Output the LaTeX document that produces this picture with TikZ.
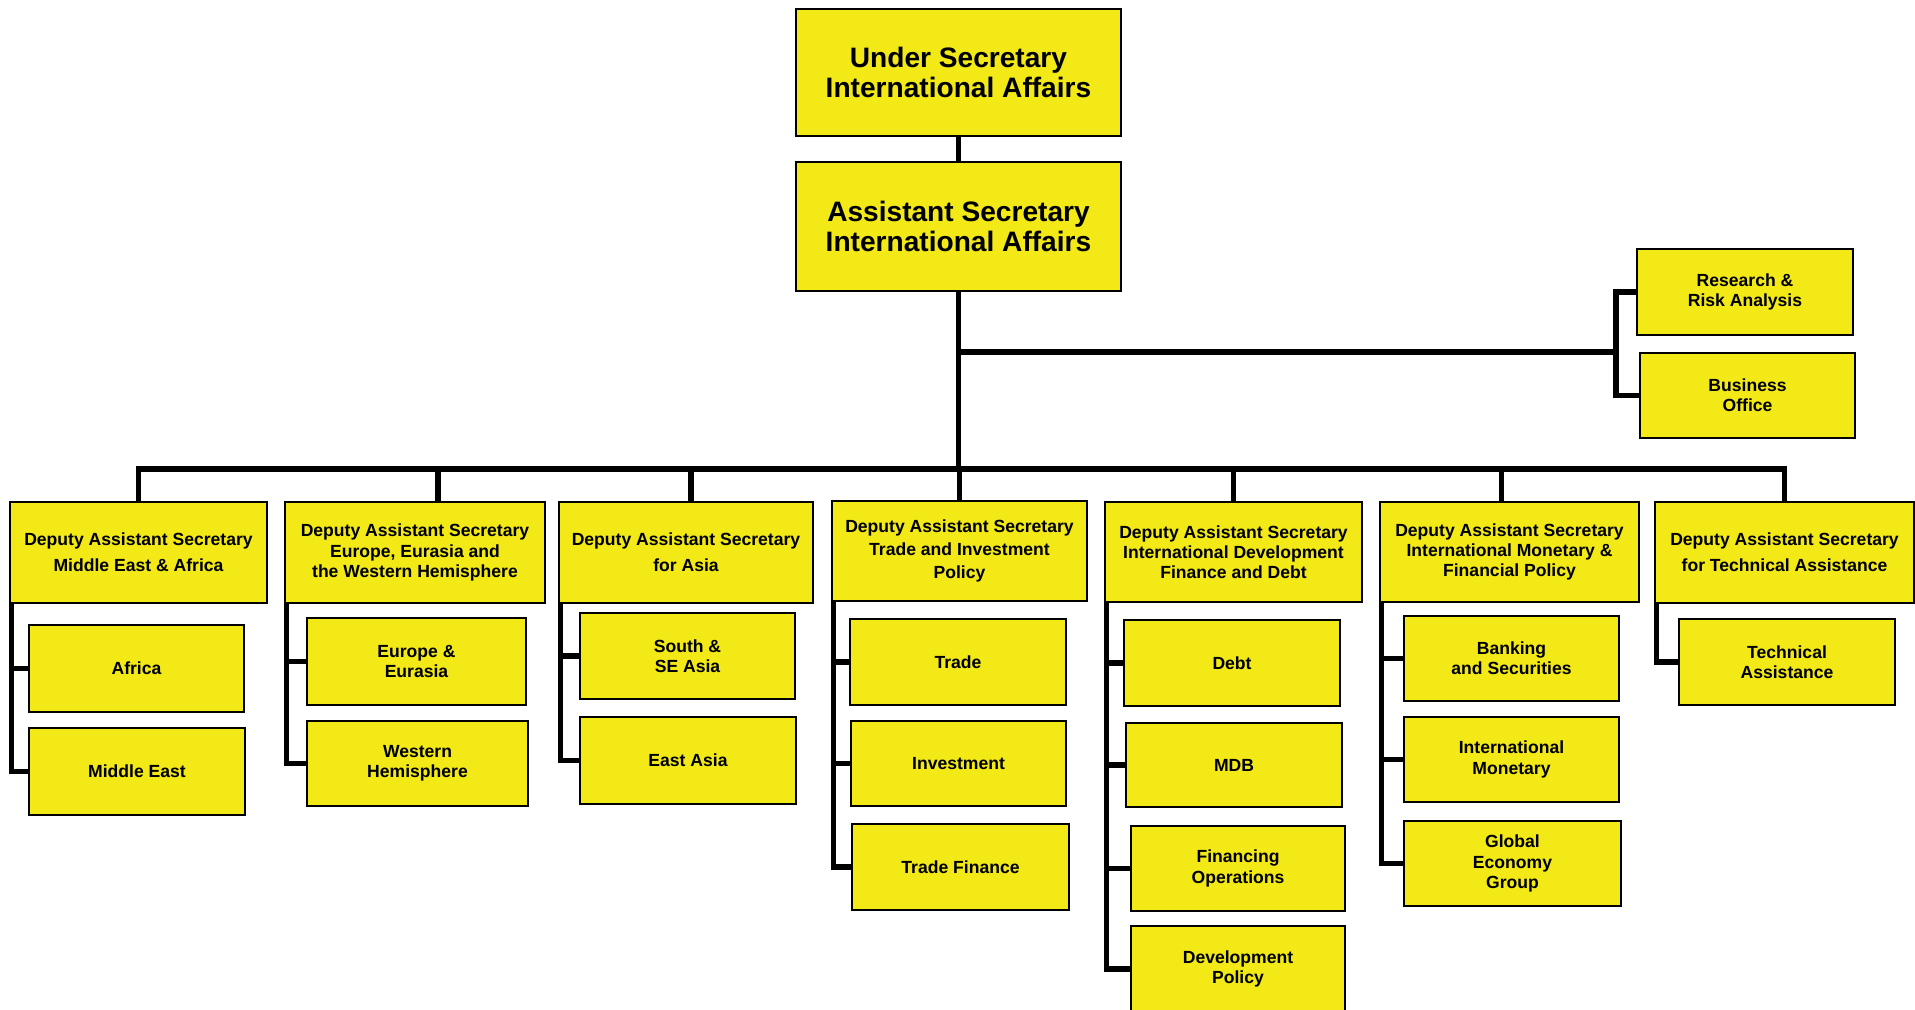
\documentclass[tikz,border=0pt]{standalone}
\usepackage{fontspec}
\setmainfont{Liberation Sans}
\definecolor{chartyellow}{RGB}{242,233,22}

\begin{document}
\begin{tikzpicture}
    [
        x=0.02cm, y=-0.02cm,
        wh/.style 2 args={minimum width=#1*0.02cm,minimum height=#2*0.02cm},
        unit/.style={rectangle,fill=chartyellow,draw=black,line width=1.6pt,inner sep=0pt,align=center,
                     font=\bfseries\fontsize{10}{11.5}\selectfont},
        head/.style={unit,font=\bfseries\fontsize{16}{17.5}\selectfont},
        wire/.style={draw=black,line width=3pt},
    ]
    \useasboundingbox (0,0) rectangle (1915,1009);
    \node[head,wh={325}{127}] (us) at (958.5,72.5) {Under Secretary\\International Affairs};
    \node[head,wh={325}{129}] (as) at (958.5,226.5) {Assistant Secretary\\International Affairs};
    \node[unit,wh={216}{86}] (research) at (1745,292) {Research \&\\Risk Analysis};
    \node[unit,wh={215}{85}] (business) at (1747.5,395.5) {Business\\Office};

    \node[unit,wh={257}{101}] (dmea) at (138.5,552.5) {Deputy Assistant Secretary\\[3.5pt]Middle East \& Africa};
    \node[unit,wh={260}{101}] (deur) at (415,552.5) {Deputy Assistant Secretary\\Europe, Eurasia and\\the Western Hemisphere};
    \node[unit,wh={254}{101}] (dasia) at (686,552.5) {Deputy Assistant Secretary\\[3.5pt]for Asia};
    \node[unit,wh={255}{100}] (dtrade) at (959.5,551) {Deputy Assistant Secretary\\[1.5pt]Trade and Investment\\[1.5pt]Policy};
    \node[unit,wh={257}{100}] (ddev) at (1233.5,552) {Deputy Assistant Secretary\\International Development\\Finance and Debt};
    \node[unit,wh={259}{100}] (dmon) at (1509.5,552) {Deputy Assistant Secretary\\International Monetary \&\\Financial Policy};
    \node[unit,wh={259}{101}] (dtech) at (1784.5,552.5) {Deputy Assistant Secretary\\[3.5pt]for Technical Assistance};

    \node[unit,wh={215}{87}] (africa) at (136.5,668.5) {Africa};
    \node[unit,wh={216}{87}] (mideast) at (137,771.5) {Middle East};
    \node[unit,wh={219}{87}] (europe) at (416.5,661.5) {Europe \&\\Eurasia};
    \node[unit,wh={221}{85}] (western) at (417.5,763.5) {Western\\Hemisphere};
    \node[unit,wh={215}{86}] (southasia) at (687.5,656) {South \&\\SE Asia};
    \node[unit,wh={216}{87}] (eastasia) at (688,760.5) {East Asia};
    \node[unit,wh={216}{86}] (trade) at (958,662) {Trade};
    \node[unit,wh={215}{85}] (invest) at (958.5,763.5) {Investment};
    \node[unit,wh={217}{86}] (tradefin) at (960.5,867) {Trade Finance};
    \node[unit,wh={216}{86}] (debt) at (1232,663) {Debt};
    \node[unit,wh={216}{84}] (mdb) at (1234,765) {MDB};
    \node[unit,wh={214}{85}] (finops) at (1238,868.5) {Financing\\Operations};
    \node[unit,wh={214}{86}] (devpol) at (1238,969) {Development\\Policy};
    \node[unit,wh={215}{85}] (banking) at (1511.5,658.5) {Banking\\and Securities};
    \node[unit,wh={215}{85}] (intlmon) at (1511.5,759.5) {International\\Monetary};
    \node[unit,wh={217}{85}] (global) at (1512.5,863.5) {Global\\Economy\\Group};
    \node[unit,wh={216}{86}] (techassist) at (1787,662) {Technical\\Assistance};

    \coordinate (bus) at (959,469);
    \coordinate (sidejoin) at (1616,352);

    \draw[wire] (us) -- (as);
    \draw[wire] (as) -- (as |- bus);
    \draw[wire] (as |- sidejoin) -- (sidejoin);
    \draw[wire] (research.west) -| (sidejoin) |- (business.west);
    \draw[wire] (dmea) |- (bus) -| (dtech);
    \foreach \d/\o in {deur/0.46cm,dasia/0.1cm,dtrade/0cm,ddev/0cm,dmon/-0.16cm}
        \draw[wire] ([xshift=\o]\d.north) -- ([xshift=\o]\d.north |- bus);
    \foreach \d/\s in {dmea/africa,dmea/mideast,deur/europe,deur/western,dasia/southasia,dasia/eastasia,
                       dtrade/trade,dtrade/invest,dtrade/tradefin,ddev/debt,ddev/mdb,ddev/finops,ddev/devpol,
                       dmon/banking,dmon/intlmon,dmon/global,dtech/techassist}
        \draw[wire] ([xshift=1.5pt]\d.south west) |- (\s.west);
\end{tikzpicture}
\end{document}
